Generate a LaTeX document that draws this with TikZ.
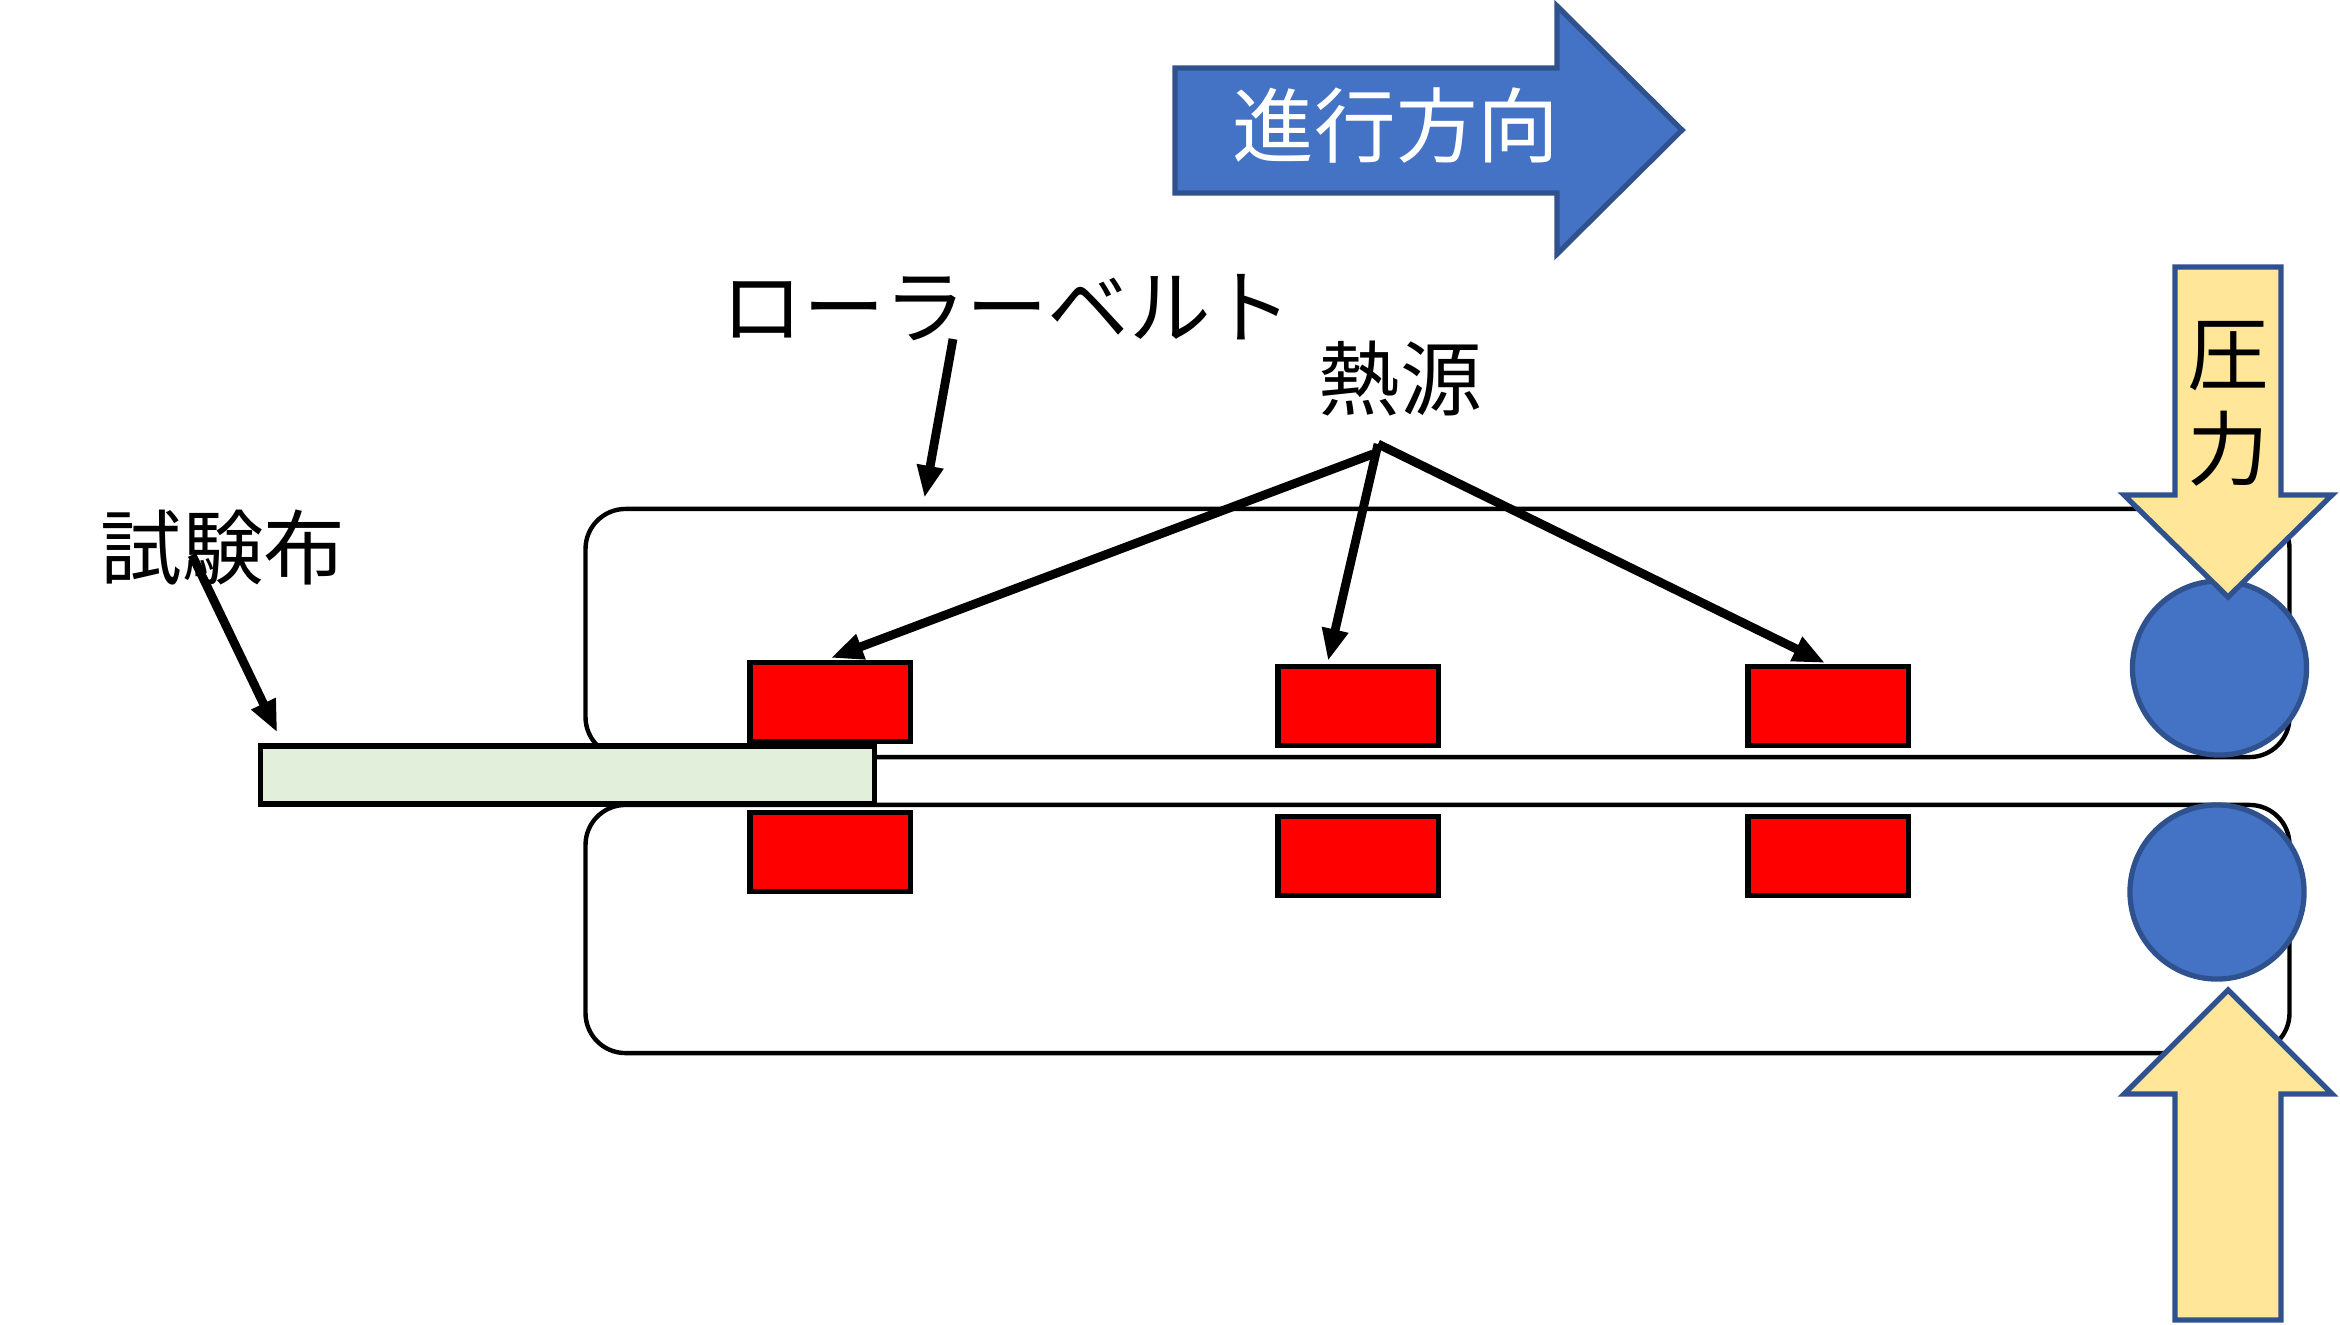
\documentclass[tikz,border=0pt]{standalone}
\usepackage{fontspec}
\setmainfont{Noto Sans CJK JP}
\usetikzlibrary{arrows.meta}
\usetikzlibrary{positioning}
\definecolor{arrowblue}{HTML}{4472C4}
\definecolor{edgeblue}{HTML}{2F528F}
\definecolor{pressyellow}{HTML}{FFE699}
\definecolor{clothgreen}{HTML}{E2EFDA}
\tikzset{
    belt/.style={draw, line width=1.25pt, rounded corners=0.4cm, minimum width=17.03cm, minimum height=2.48cm, inner sep=0pt},
    heatbox/.style={draw, line width=1.45pt, fill=red, minimum width=1.6cm, minimum height=0.79cm, inner sep=0pt},
    roller/.style={draw=edgeblue, line width=1.5pt, fill=arrowblue, circle, minimum size=1.74cm, inner sep=0pt},
    blockarrow/.style={draw=edgeblue, line width=1.5pt, line join=miter},
    label/.style={inner sep=0pt, font=\fontsize{23.2}{27}\selectfont, align=center},
    leader/.style={-{Triangle[length=0.32cm, width=0.25cm]}, line width=2.5pt},
}

\begin{document}
\begin{tikzpicture}[x=0.01cm, y=-0.01cm, node distance=1.5cm]
        \useasboundingbox (0,0) rectangle (2340,1324);
        \node [belt] (beltU) at (1437.5,633) {};
        \node [belt] (beltL) at (1437.5,929) {};
        \node [heatbox] (heatA) at (830,702) {};
        \node [heatbox] (heatB) at (1358,706) {};
        \node [heatbox] (heatC) at (1828,706) {};
        \node [heatbox, below of=heatA] (heatAL) {};
        \node [heatbox, below of=heatB] (heatBL) {};
        \node [heatbox, below of=heatC] (heatCL) {};
        \node [draw, line width=1.45pt, fill=clothgreen, minimum width=6.13cm, minimum height=0.58cm, inner sep=0pt] (cloth) at (567.5,775) {};
        \node [roller] (rollerU) at (2219.5,668) {};
        \node [roller] (rollerL) at (2217,892) {};
        \draw [blockarrow, fill=arrowblue] (1175,68) -- (1557,68) -- (1557,6) -- (1682,130) -- (1557,254) -- (1557,193) -- (1175,193) -- cycle;
        \draw [blockarrow, fill=pressyellow] (2175,267) -- (2281,267) -- (2281,495) -- (2332,495) -- (2228,597) -- (2124,495) -- (2175,495) -- cycle;
        \draw [blockarrow, fill=pressyellow] (2175,1320) -- (2281,1320) -- (2281,1094) -- (2332,1094) -- (2228,990) -- (2124,1094) -- (2175,1094) -- cycle;
        \node [label, text=white] (direction) at (1396,126) {進行方向};
        \node [label] (pressure) at (2228,404) {圧\\力};
        \node [label] (rollerbelt) at (1007,308) {ローラーベルト};
        \node [label] (heatsource) at (1400,379) {熱源};
        \node [label] (testcloth) at (223,548) {試験布};
        \draw [leader] ([shift={(-54,31)}]rollerbelt.center) -- ([shift={(-513,-9)}]beltU.north);
        \draw [leader] ([shift={(-27,75)}]heatsource.center) -- ([shift={(1,-2)}]heatA.north);
        \draw [leader] ([shift={(-22,65)}]heatsource.center) -- ([shift={(-30,-3)}]heatB.north);
        \draw [leader] ([shift={(-22,65)}]heatsource.center) -- ([shift={(-3,-1)}]heatC.north);
        \draw [leader] ([shift={(-31,7)}]testcloth.center) -- ([shift={(19,-11)}]cloth.north west);
    \end{tikzpicture}
\end{document}
